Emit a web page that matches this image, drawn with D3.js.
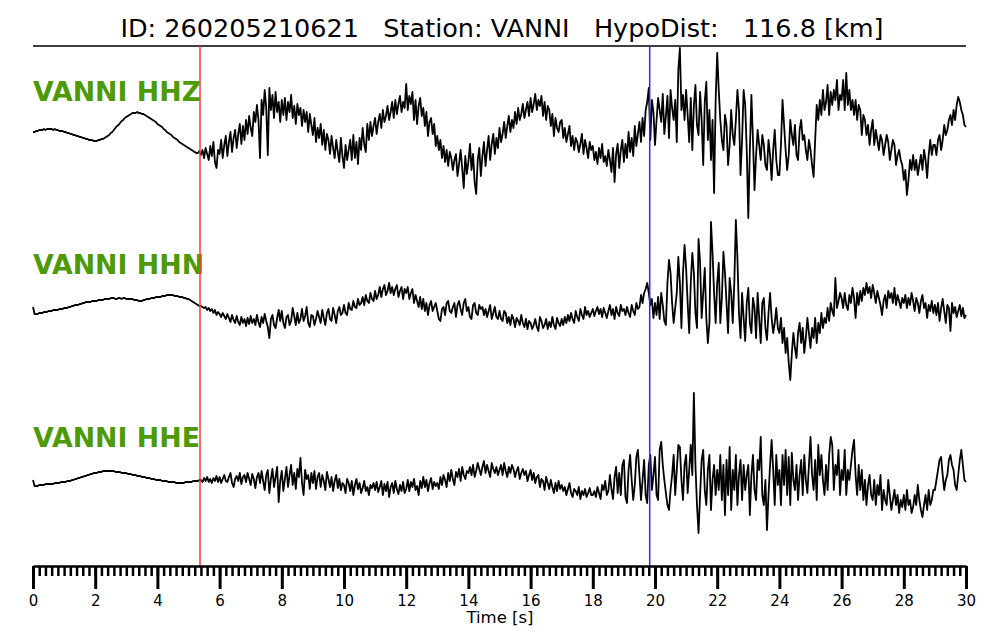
<!DOCTYPE html>
<html lang="en">
<head>
    <meta charset="UTF-8">
    <style>
        body { margin: 0; background: #fff; }
        text { font-family: "DejaVu Sans", sans-serif; }
        .trace { fill: none; stroke: #000; stroke-width: 1.8px; stroke-linejoin: round; }
        .axis path { stroke: #000; stroke-width: 2.5px; }
        .axis line { stroke: #000; stroke-width: 2.5px; }
        .major line { stroke-width: 3px; }
        .axis text { font-size: 15px; fill: #000; }
        .label { font-weight: bold; font-size: 26.8px; fill: #4e9a06; }
    </style>
    <title>Seismogram</title>
</head>
<body>
<script src="https://d3js.org/d3.v7.min.js" charset="utf-8"></script>
<script>
    // sampling step of the traces [s]
    var dt = 0.05;

    var stations = ['VANNI HHZ', 'VANNI HHN', 'VANNI HHE'];
    var pPick = 5.37, sPick = 19.83;
    var majorTicks = [0, 2, 4, 6, 8, 10, 12, 14, 16, 18, 20, 22, 24, 26, 28, 30];

    // amplitudes, one row per second
    var hhz = [
        -2,-2,-1,-1,0,0,0,1,0,1,1,1,1,0,1,0,0,-1,-1,-1,
        -2,-2,-3,-3,-4,-4,-5,-5,-6,-6,-7,-7,-8,-8,-9,-9,-10,-10,-10,-11,
        -11,-11,-10,-10,-9,-9,-8,-7,-6,-5,-3,-2,0,2,4,5,7,9,10,12,
        13,14,15,16,17,17,17,18,17,17,16,16,15,14,13,12,11,10,9,8,
        6,5,4,3,1,0,-2,-3,-4,-5,-7,-8,-9,-10,-12,-13,-14,-15,-16,-17,
        -18,-19,-20,-21,-22,-23,-23,-21,-25,-20,-28,-18,-24,-30,-16,-26,-12,-32,-38,-20,
        -24,-10,-28,-15,-6,-26,-12,-2,-22,-8,0,-18,-4,6,-14,4,-10,10,-4,14,
        2,-6,18,8,25,10,-28,30,15,40,22,-25,42,20,35,12,38,18,28,8,
        30,15,32,10,28,18,35,12,24,6,26,15,22,4,20,8,18,-2,16,5,
        -5,12,-12,2,-8,6,-15,0,-20,-4,-10,-24,-6,-18,-28,-10,-22,-32,-8,-26,
        -38,-15,-30,-20,-10,-30,-5,-28,-12,-34,-8,-20,2,-14,-22,6,-10,8,-6,4,
        12,-4,8,16,2,20,8,14,24,10,18,28,12,30,16,26,34,18,28,22,
        46,20,34,26,38,10,30,6,24,32,14,22,4,18,-6,8,12,-4,6,-16,
        -6,-20,-10,-28,-16,-32,-20,-36,-22,-28,-40,-30,-24,-46,-34,-20,-38,-58,-26,-44,
        -32,-14,-40,-24,-52,-64,-30,-18,-46,-26,-12,-36,-20,-6,-30,-14,-4,-24,-8,-18,
        2,-12,-4,8,-8,4,14,-2,10,2,18,6,22,10,16,26,12,20,28,14,
        32,18,26,36,20,30,24,34,14,28,10,24,20,4,16,-6,12,2,-2,8,
        10,-8,2,-12,-4,4,-16,-6,-20,-8,-12,-22,-14,-4,-24,-10,-18,-28,-12,-20,
        -16,-30,-22,-34,-18,-28,-14,-32,-26,-36,-20,-30,-42,-18,-52,-24,-14,-38,-20,-10,
        -32,-14,-28,-2,-22,-8,-26,4,-16,-4,8,-12,12,-6,20,28,42,-10,30,18,
        -15,10,32,20,8,36,-4,14,34,-8,40,22,10,30,-12,60,82,20,35,10,
        40,15,-12,32,-20,24,45,5,-5,38,10,-35,28,48,-10,20,-30,10,-63,30,
        77,40,10,-10,-20,15,5,-35,-15,20,-5,-15,10,40,20,-45,-10,40,25,-20,
        -88,-20,35,-10,-60,-25,0,-15,-30,-5,-15,-35,-40,-10,-25,-50,-20,0,-30,-45,
        -45,-15,30,5,-20,-40,-25,10,-5,-15,5,-25,-30,0,10,-10,-5,-20,-30,-10,
        -20,-35,-47,-10,25,10,30,15,40,20,28,45,15,38,25,40,30,50,20,35,
        30,50,20,57,25,40,20,30,15,30,10,25,20,-5,15,10,-5,5,-15,0,
        10,-15,0,-10,-20,-5,-10,-25,-15,-5,-12,-30,-20,-10,-15,-35,-25,-20,-30,-35,
        -50,-40,-65,-50,-30,-40,-25,-40,-30,-45,-35,-25,-40,-20,-30,-48,-25,-10,-25,-15,
        -15,-25,-10,-5,-20,-10,5,-5,0,10,15,5,20,10,25,33,28,20,15,5,
        3
    ];

    var hhn = [
        6,-1,-1,-1,0,0,0,1,1,1,2,2,2,3,3,3,3,4,4,4,
        5,5,5,6,6,7,7,8,8,8,9,9,10,10,11,11,11,11,12,12,
        12,12,13,13,13,13,14,14,14,14,15,15,15,14,14,15,15,14,15,15,
        14,14,14,14,14,13,13,13,12,12,12,13,13,14,14,14,15,15,15,16,
        16,16,16,17,17,17,18,18,18,18,18,17,17,17,16,16,16,15,15,14,
        14,13,12,11,10,9,8,7,7,6,5,6,3,5,2,4,0,3,-2,1,
        -1,-4,0,-3,-6,-1,-5,-9,-2,-7,-10,-3,-9,-12,-4,-10,-6,-13,-5,-11,
        -3,-10,-6,-12,-2,-9,-14,-4,-10,-1,-8,-14,-25,-6,-2,-12,-15,-5,3,-8,
        2,-10,-15,-4,-2,-12,-8,5,-3,-12,0,-10,-6,4,-8,-3,6,-10,-14,-2,
        -3,-12,-6,2,-4,-10,3,-5,-12,0,4,-6,-8,5,-2,-10,2,6,-2,0,
        8,0,-2,10,4,3,12,6,5,14,8,10,16,8,18,12,10,20,14,12,
        22,14,18,26,16,24,28,18,22,30,20,26,18,24,28,16,22,26,14,24,
        20,26,14,20,24,10,18,12,6,16,4,14,2,10,-2,8,12,2,6,10,
        2,-6,-8,4,6,-2,10,12,2,0,6,10,-4,8,12,4,-2,10,14,2,
        6,-4,-6,8,10,0,-2,8,4,6,-2,4,-4,2,8,-6,0,6,-4,-6,
        2,-6,-8,2,0,-10,-4,-12,-2,-6,-14,-5,-8,-12,-2,-10,-14,-6,-16,-8,
        -10,-16,-12,-6,-14,-18,-4,-8,-15,-12,-6,-16,-9,-14,-4,-12,-16,-5,-10,-13,
        -6,-12,-4,-10,-2,-8,0,-6,-10,2,-4,-8,4,-2,-6,6,-2,2,-4,0,
        4,-3,2,6,-1,4,-4,5,0,-5,2,8,-2,4,-6,6,0,-3,8,2,
        4,-2,6,0,-4,8,2,-2,10,4,6,18,10,20,24,30,20,8,14,-5,
        10,-2,16,-6,20,8,-8,-12,30,53,40,10,-10,5,20,56,30,-15,40,68,
        45,10,-20,30,60,40,0,-15,74,50,-5,20,45,-5,-30,-10,91,60,20,-10,
        30,50,-10,15,61,40,10,-20,35,20,-10,30,93,55,0,-25,20,-5,-28,10,
        25,-10,-20,15,5,-25,20,-5,-30,10,15,-15,-27,0,20,-5,-20,-10,5,-15,
        -20,-5,-30,-15,-40,-25,-50,-67,-40,-20,-35,-45,-20,-10,-30,-15,-40,-25,-5,-20,
        -35,-15,-25,-5,-30,-10,-20,0,-15,-5,-10,5,-8,10,2,-3,35,5,12,20,
        15,5,20,8,3,18,10,25,15,-5,20,8,22,12,25,18,30,20,26,15,
        28,20,10,22,15,8,-2,12,18,5,22,15,20,10,25,8,18,12,5,15,
        10,18,5,15,8,20,12,2,15,10,0,12,18,5,10,-5,8,2,12,0,
        8,-2,10,-8,5,14,2,-10,8,5,-18,10,0,6,-4,2,8,-3,5,-5,
        -2
    ];

    var hhe = [
        5,-1,-1,-1,0,0,0,0,1,1,1,1,1,1,2,2,2,2,3,3,
        3,3,4,4,4,5,5,6,6,7,7,8,8,9,9,10,10,11,11,12,
        12,12,13,13,13,14,14,14,14,14,14,14,14,13,13,13,13,12,12,12,
        12,11,11,11,10,10,10,9,9,9,8,8,8,7,7,7,6,6,6,5,
        5,5,5,4,4,4,4,3,3,3,3,3,2,2,2,2,2,2,3,3,
        3,3,3,4,4,4,4,5,5,3,7,4,8,3,6,2,7,4,9,3,
        8,2,6,10,4,3,8,12,2,-2,6,9,4,12,1,8,10,3,12,6,
        0,11,6,-3,8,12,2,14,4,-5,10,15,-8,6,16,-2,8,18,-17,4,
        14,-6,6,18,-2,10,20,0,12,-4,16,8,27,2,-10,15,6,10,-4,12,
        2,14,-4,8,12,-2,10,4,-5,13,6,-2,8,-6,4,10,-3,6,-5,2,
        0,-8,6,2,-6,4,-10,0,6,-4,2,-8,-3,4,-6,-2,-10,0,-3,2,
        -5,3,-7,-2,4,-10,1,-6,3,-12,-2,2,-8,4,-4,-9,0,-6,3,-8,
        -4,5,-6,3,-2,6,-5,-1,-10,4,-3,8,-2,5,-6,2,7,-4,3,-1,
        2,-4,8,0,10,5,-2,12,4,15,6,0,13,8,16,4,18,10,6,14,
        12,18,10,20,8,14,22,16,10,18,24,12,20,14,8,22,16,12,18,10,
        15,20,10,22,14,8,18,12,20,16,8,14,18,6,12,16,10,14,4,10,
        15,5,12,2,8,10,-2,6,4,-5,8,2,-4,5,-2,-8,2,-6,4,-4,
        0,-6,-2,-10,-4,2,-8,-12,-4,-6,-10,-2,-14,-6,-10,-4,-12,-8,-3,-10,
        -10,-6,-12,-2,-8,-14,0,-5,4,-10,-6,10,-4,-14,8,18,-8,12,-10,20,
        25,-12,-18,15,30,5,-15,0,28,35,10,-15,5,25,-10,-18,20,30,-5,10,
        28,-10,-15,35,43,20,5,-8,-20,-25,-5,10,30,-10,15,40,38,5,-15,20,
        30,-8,15,40,10,92,20,-20,-48,-10,25,35,-5,-20,15,30,-25,5,20,-10,
        15,-5,30,-15,20,-30,25,-10,38,-25,15,-5,30,-20,10,25,-15,20,-5,10,
        20,-30,10,30,-5,-15,25,15,48,-10,-20,5,-45,-10,20,45,15,-20,30,0,
        15,-20,30,0,35,-10,28,-20,32,5,-5,20,-15,10,25,-10,30,5,-8,20,
        48,10,-5,25,-15,40,10,30,5,-10,20,-5,30,48,40,-5,20,10,35,-10,
        15,5,35,-10,15,5,20,35,45,10,-10,20,-5,15,-15,5,-20,0,10,-10,
        -15,5,-20,0,-10,10,-25,-5,-15,-20,5,-10,-25,-15,-5,-20,-10,-28,-15,-22,
        -10,-25,-5,-20,-15,-28,-22,-10,-20,0,-15,-25,-32,-20,-10,-25,-5,-20,-15,-5,
        -5,5,15,25,28,10,-5,5,10,25,30,20,15,0,-5,10,25,35,20,5,
        3
    ];

    var traces = [hhz, hhn, hhe];

    var width = 1000, height = 640;
    var plot = {left: 33, right: 966, top: 46, bottom: 566};
    var baselines = [130, 313, 485];
    var labelY = [101, 274, 447];

    var svg = d3.select('body').append('svg')
        .attr('width', width).attr('height', height);

    var x = d3.scaleLinear().domain([0, 30]).range([plot.left, plot.right]);

    // title
    svg.append('text')
        .attr('x', 502).attr('y', 37)
        .attr('text-anchor', 'middle')
        .style('font-size', '25.5px')
        .style('white-space', 'pre')
        .text('ID: 260205210621   Station: VANNI   HypoDist:   116.8 [km]');

    svg.append('line')
        .attr('x1', plot.left).attr('x2', plot.right)
        .attr('y1', plot.top).attr('y2', plot.top)
        .attr('stroke', '#000').attr('stroke-width', 1.5);

    // traces
    traces.forEach(function (tr, k) {
        var y = d3.scaleLinear().domain([-100, 100])
            .range([baselines[k] + 100, baselines[k] - 100]);

        var line = d3.line()
            .x(function (d, i) { return x(i * dt); })
            .y(function (d) { return y(d); });

        svg.append('path')
            .datum(tr)
            .attr('class', 'trace')
            .attr('d', line);

        svg.append('text')
            .attr('class', 'label')
            .attr('x', plot.left).attr('y', labelY[k])
            .text(stations[k]);
    });

    // picks
    [[pPick, '#ff3b3b'], [sPick, '#2a2aff']].forEach(function (p) {
        svg.append('line')
            .attr('x1', x(p[0])).attr('x2', x(p[0]))
            .attr('y1', plot.top).attr('y2', plot.bottom)
            .attr('stroke', p[1]).attr('stroke-width', 1.5);
    });

    // time axis
    var minorAxis = d3.axisBottom(x)
        .tickValues(d3.range(0, 150.5).map(function (i) { return i / 5; }))
        .tickSize(10).tickSizeOuter(0)
        .tickFormat('');

    var majorAxis = d3.axisBottom(x)
        .tickValues(majorTicks)
        .tickSize(23).tickSizeOuter(0).tickPadding(6)
        .tickFormat(d3.format('d'));

    svg.append('g').attr('class', 'axis')
        .attr('transform', 'translate(0,' + plot.bottom + ')')
        .call(minorAxis);

    var gMajor = svg.append('g').attr('class', 'axis major')
        .attr('transform', 'translate(0,' + plot.bottom + ')')
        .call(majorAxis);
    gMajor.select('.domain').remove();
    gMajor.selectAll('text').attr('font-family', null).attr('font-size', null);

    svg.append('text')
        .attr('x', 500).attr('y', 623)
        .attr('text-anchor', 'middle')
        .style('font-size', '16.5px')
        .text('Time [s]');
</script>
</body>
</html>
